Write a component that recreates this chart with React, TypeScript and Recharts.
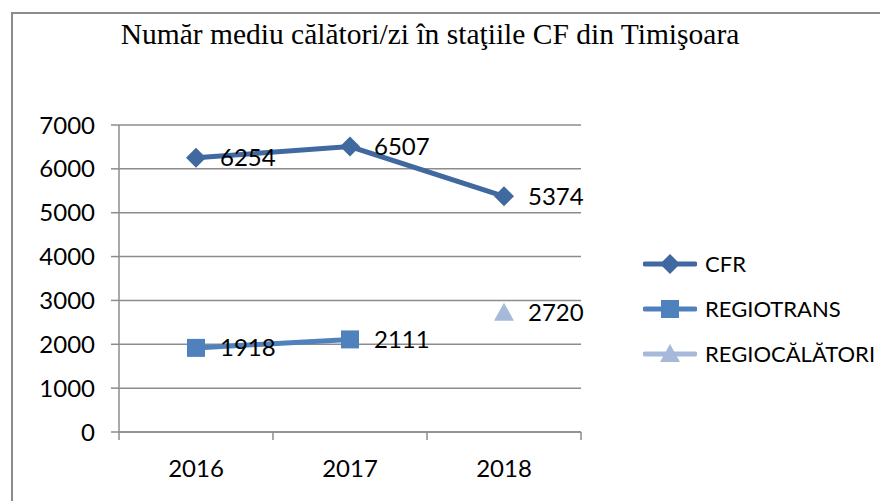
import React from "react";
import { LineChart, Line, XAxis, YAxis, CartesianGrid, LabelList } from "recharts";

const title = "Număr mediu călători/zi în staţiile CF din Timişoara";
const years = ["2016", "2017", "2018"];
const cfr = [6254, 6507, 5374];
const regiotrans = [1918, 2111, null];
const regiocalatori = [null, null, 2720];
const yTicks = [0, 1000, 2000, 3000, 4000, 5000, 6000, 7000];

const series = [
  { key: "cfr", name: "CFR", color: "#4069A0", shape: "diamond" },
  { key: "regiotrans", name: "REGIOTRANS", color: "#4F81BD", shape: "square" },
  { key: "regiocalatori", name: "REGIOCĂLĂTORI", color: "#A7B9DA", shape: "triangle" },
];

const data = years.map((year, i) => ({
  year,
  cfr: cfr[i],
  regiotrans: regiotrans[i],
  regiocalatori: regiocalatori[i],
}));

const FONT = "Lato, 'Open Sans', sans-serif";
const GRID = "#8c8c8c";
const NUM_SIZE = 24;

const Marker = ({ shape, cx, cy, color }: { shape: string; cx: number; cy: number; color: string }) => {
  if (shape === "diamond") {
    return <polygon points={`${cx},${cy - 10} ${cx + 10},${cy} ${cx},${cy + 10} ${cx - 10},${cy}`} fill={color} />;
  }
  if (shape === "square") {
    return <rect x={cx - 9} y={cy - 9} width={18} height={18} fill={color} />;
  }
  return <polygon points={`${cx},${cy - 10} ${cx + 10},${cy + 8} ${cx - 10},${cy + 8}`} fill={color} />;
};

const makeDot = (shape: string, color: string) => (props: any) => {
  const { cx, cy, value, index } = props;
  if (cx == null || cy == null || value == null) return <g key={`d${index}`} />;
  return (
    <g key={`d${index}`}>
      <Marker shape={shape} cx={cx} cy={cy} color={color} />
    </g>
  );
};

// category label at band centre, tick marks on the band edges (Excel style)
const YearTick = (props: any) => {
  const { x, y, payload, index, visibleTicksCount } = props;
  const half = payload && payload.offset ? payload.offset : 77;
  const axisY = y - 28;
  const last = index === visibleTicksCount - 1;
  return (
    <g>
      <line x1={x - half} y1={axisY} x2={x - half} y2={axisY + 8} stroke={GRID} strokeWidth={1.5} />
      {last && <line x1={x + half} y1={axisY} x2={x + half} y2={axisY + 8} stroke={GRID} strokeWidth={1.5} />}
      <text x={x} y={y} dy="0.71em" textAnchor="middle" fill="#000" fontSize={NUM_SIZE} fontFamily={FONT}>
        {payload.value}
      </text>
    </g>
  );
};

export default function App() {
  return (
    <div style={{ position: "absolute", left: 0, top: 0, width: 880, height: 501, overflow: "hidden", background: "#fff" }}>
      {/* chart frame, runs off the right and bottom edges */}
      <div
        style={{
          position: "absolute",
          left: 11,
          top: 12,
          width: 900,
          height: 520,
          border: "2px solid #8c8c8c",
          boxSizing: "border-box",
        }}
      />
      <div
        style={{
          position: "absolute",
          left: 0,
          top: 18,
          width: 860,
          textAlign: "center",
          fontFamily: "'Liberation Serif', 'Times New Roman', serif",
          fontSize: 29.5,
          color: "#000",
          whiteSpace: "nowrap",
        }}
      >
        {title}
      </div>
      <div style={{ position: "absolute", left: 0, top: 0 }}>
        <LineChart width={880} height={501} data={data} margin={{ top: 125, right: 299, bottom: 29, left: 59 }}>
          <CartesianGrid horizontal vertical={false} stroke={GRID} strokeWidth={1.5} />
          <XAxis
            dataKey="year"
            scale="band"
            height={40}
            axisLine={{ stroke: GRID, strokeWidth: 1.5 }}
            tickLine={false}
            tickSize={0}
            tickMargin={28}
            tick={<YearTick />}
          />
          <YAxis
            width={60}
            domain={[0, 7000]}
            ticks={yTicks}
            interval={0}
            axisLine={{ stroke: GRID, strokeWidth: 1.5 }}
            tickSize={8}
            tickMargin={16}
            tickLine={{ stroke: GRID, strokeWidth: 1.5 }}
            tick={{ fill: "#000", fontSize: NUM_SIZE, fontFamily: FONT }}
          />
          {series.map((s) => (
            <Line
              key={s.key}
              dataKey={s.key}
              name={s.name}
              stroke={s.color}
              strokeWidth={5}
              dot={makeDot(s.shape, s.color)}
              activeDot={false}
              isAnimationActive={false}
            >
              <LabelList dataKey={s.key} position="right" offset={24} fill="#000" fontSize={NUM_SIZE} fontFamily={FONT} />
            </Line>
          ))}
        </LineChart>
      </div>
      {/* legend */}
      <div style={{ position: "absolute", left: 643, top: 241, fontFamily: FONT, fontSize: 22, color: "#000" }}>
        {series.map((s) => (
          <div key={s.key} style={{ display: "flex", alignItems: "center", height: 45 }}>
            <svg width={54} height={24} style={{ marginRight: 8 }}>
              <line x1={2} y1={12} x2={52} y2={12} stroke={s.color} strokeWidth={5} strokeLinecap="round" />
              <Marker shape={s.shape} cx={27} cy={12} color={s.color} />
            </svg>
            <span style={{ whiteSpace: "nowrap" }}>{s.name}</span>
          </div>
        ))}
      </div>
    </div>
  );
}
